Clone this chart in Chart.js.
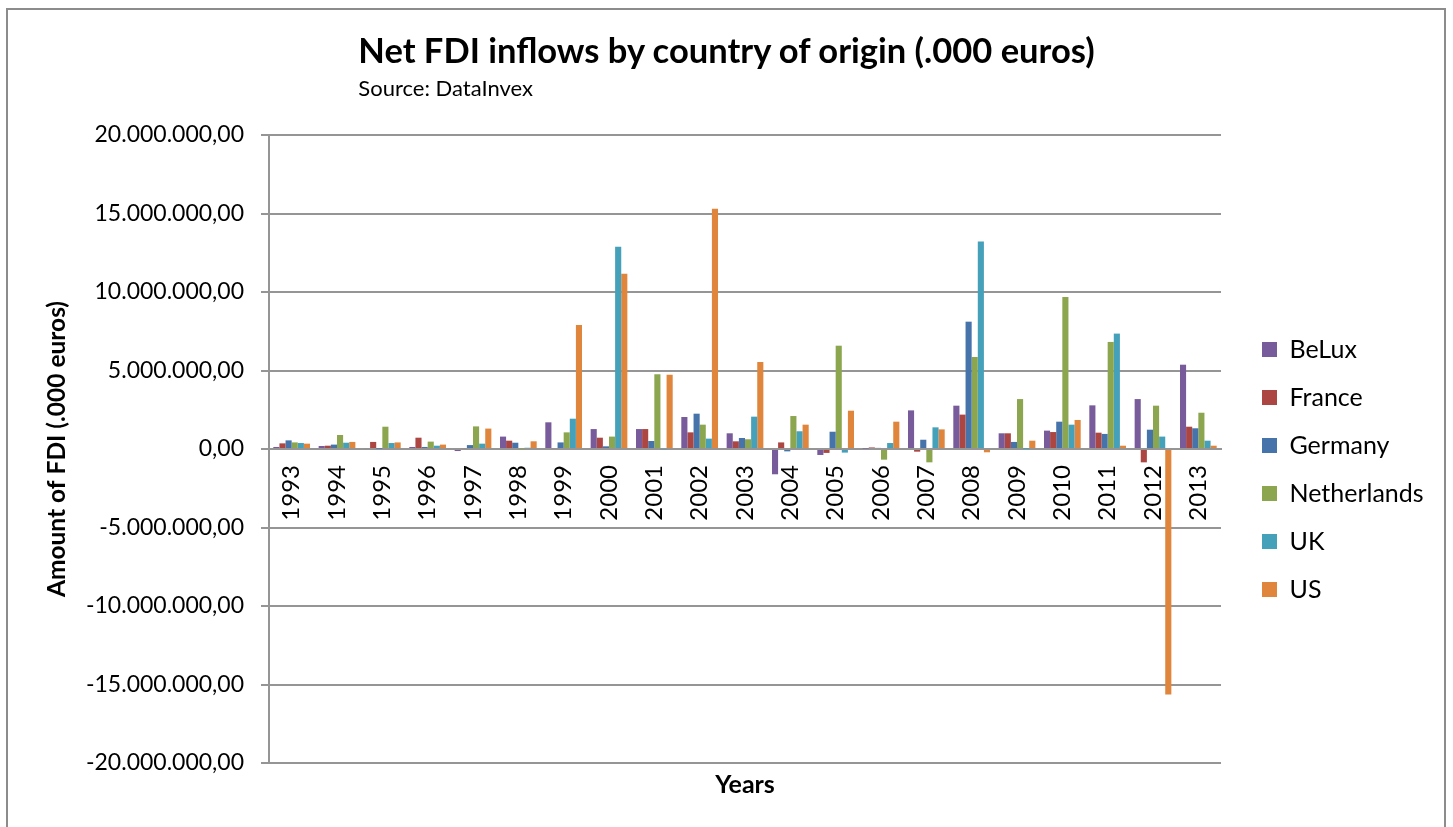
<!DOCTYPE html>
<html>
<head>
<meta charset="utf-8">
<title>Net FDI inflows by country of origin</title>
<script src="https://cdn.jsdelivr.net/npm/chart.js@4.4.1/dist/chart.umd.min.js"></script>
<style>
  html, body { margin: 0; padding: 0; background: #fff; }
  body { width: 1453px; height: 827px; overflow: hidden; position: relative; font-family: Lato, "Open Sans", sans-serif; }
  canvas { position: absolute; left: 0; top: 0; }
  #frame { position: absolute; left: 6px; top: 8px; width: 1436px; height: 900px; border: 2px solid #8c8c8c; pointer-events: none; }
  #head { position: absolute; top: 29px; left: 50%; transform: translateX(-50%); white-space: nowrap; color: #000; }
  #head .t { font-weight: 700; font-size: 34.5px; line-height: 41px; }
  #head .s { font-size: 22px; line-height: 26px; margin-top: 5px; }
</style>
</head>
<body>
<canvas id="fdi" width="1453" height="827"></canvas>
<div id="frame"></div>
<div id="head">
  <div class="t">Net FDI inflows by country of origin (.000 euros)</div>
  <div class="s">Source: DataInvex</div>
</div>
<script>
// Years on the category axis
const years = ['1993', '1994', '1995', '1996', '1997', '1998', '1999', '2000', '2001', '2002',
               '2003', '2004', '2005', '2006', '2007', '2008', '2009', '2010', '2011', '2012', '2013'];

// Country of origin names
const countries = ['BeLux', 'France', 'Germany', 'Netherlands', 'UK', 'US'];

// Net FDI inflows per year, in thousands of euros
const beLux = [130000, 190000, 60000, 130000, -130000, 790000, 1700000, 1270000, 1270000, 2040000,
               1000000, -1610000, -380000, 30000, 2460000, 2760000, 1000000, 1170000, 2780000, 3180000, 5370000];
const france = [360000, 210000, 450000, 720000, 60000, 530000, 60000, 720000, 1270000, 1060000,
                490000, 420000, -250000, 100000, -170000, 2190000, 1000000, 1080000, 1040000, -850000, 1420000];
const germany = [550000, 280000, 20000, 130000, 250000, 400000, 420000, 170000, 510000, 2250000,
                 700000, -150000, 1100000, 70000, 590000, 8110000, 450000, 1740000, 960000, 1230000, 1320000];
const netherlands = [420000, 890000, 1420000, 470000, 1440000, 20000, 1060000, 790000, 4760000, 1550000,
                     620000, 2100000, 6580000, -680000, -850000, 5860000, 3180000, 9680000, 6820000, 2760000, 2310000];
const uk = [380000, 400000, 380000, 210000, 340000, 80000, 1930000, 12890000, -40000, 660000,
            2060000, 1130000, -230000, 380000, 1380000, 13210000, 10000, 1550000, 7350000, 790000, 530000];
const us = [340000, 450000, 420000, 280000, 1300000, 490000, 7900000, 11170000, 4730000, 15310000,
            5540000, 1550000, 2440000, 1740000, 1250000, -210000, 530000, 1850000, 210000, -15640000, 210000];

// Value axis range and tick step
const axisMin = -20000000;
const axisMax = 20000000;
const axisStep = 5000000;

const seriesValues = [beLux, france, germany, netherlands, uk, us];
const seriesColors = ['#785B9B', '#AB4643', '#4673AA', '#8BA64F', '#45A0B9', '#E0853C'];
const lineGray = '#959595';

// 20000000 -> "20.000.000,00"
function euroFormat(v) {
  const neg = v < 0;
  const digits = Math.round(Math.abs(v)).toString().replace(/\B(?=(\d{3})+(?!\d))/g, '.');
  return (neg ? '-' : '') + digits + ',00';
}

// Places the legend column beside the plot area
const legendPlacement = {
  id: 'legendPlacement',
  afterLayout(chart) {
    const lg = chart.legend;
    const area = chart.chartArea;
    if (!lg || !area) return;
    lg.left = area.right + 18;
    lg.right = chart.width;
    lg.width = lg.right - lg.left;
    lg.top = area.top;
    lg.bottom = area.bottom + 41;
    lg.height = lg.bottom - lg.top;
  }
};

Chart.defaults.font.family = 'Lato, "Open Sans", sans-serif';
Chart.defaults.color = '#000';

new Chart(document.getElementById('fdi'), {
  type: 'bar',
  data: {
    labels: years,
    datasets: countries.map((name, i) => ({
      label: name,
      data: seriesValues[i],
      backgroundColor: seriesColors[i],
      borderWidth: 0,
      categoryPercentage: 0.81,
      barPercentage: 1.0,
      xAxisID: 'x',
      yAxisID: 'y'
    }))
  },
  options: {
    responsive: false,
    animation: false,
    layout: { padding: { left: 10, top: 135, right: 82, bottom: 14 } },
    plugins: {
      legend: {
        position: 'right',
        maxWidth: 150,
        labels: {
          font: { size: 25 },
          color: '#000',
          boxWidth: 15,
          boxHeight: 15,
          padding: 23
        }
      },
      title: { display: false },
      tooltip: { enabled: false }
    },
    scales: {
      x: {
        type: 'category',
        position: { y: 0 },
        grid: { display: false, drawTicks: false },
        border: { display: true, color: lineGray, width: 2 },
        ticks: {
          font: { size: 24 },
          color: '#000',
          minRotation: 90,
          maxRotation: 90,
          padding: 16,
          autoSkip: false
        }
      },
      xYears: {
        type: 'category',
        axis: 'x',
        position: 'bottom',
        grid: { display: false, drawTicks: false },
        border: { display: false },
        ticks: { display: false },
        title: {
          display: true,
          text: 'Years',
          font: { size: 25, weight: 'bold' },
          color: '#000',
          padding: { top: 0, bottom: 13 }
        },
        afterFit(scale) { scale.height = 50; }
      },
      y: {
        min: axisMin,
        max: axisMax,
        ticks: {
          stepSize: axisStep,
          callback: (v) => euroFormat(v),
          font: { size: 23 },
          color: '#000',
          padding: 17
        },
        grid: { color: lineGray, lineWidth: 2, tickLength: 8, drawTicks: true },
        border: { display: true, color: lineGray, width: 2 },
        title: {
          display: true,
          text: 'Amount of FDI (.000 euros)',
          font: { size: 24.5, weight: 'bold' },
          color: '#000',
          padding: { top: 32, bottom: 0 }
        },
        afterFit(scale) { scale.width = 259; }
      }
    }
  },
  plugins: [legendPlacement]
});
</script>
</body>
</html>
